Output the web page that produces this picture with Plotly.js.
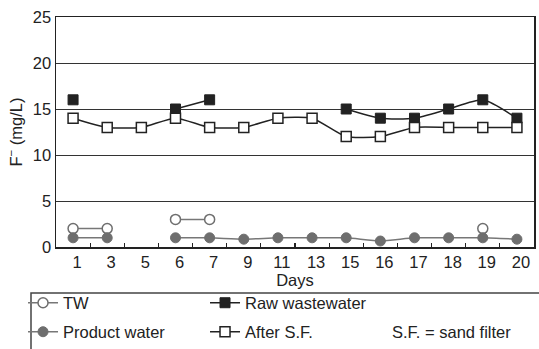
<!DOCTYPE html>
<html>
<head>
<meta charset="utf-8">
<script src="https://cdn.plot.ly/plotly-3.0.1.min.js"></script>
<style>html,body{margin:0;padding:0;background:#fff;}#chart{width:539px;height:349px;}</style>
</head>
<body>
<div id="chart"></div>
<script>
const days = ["1","3","5","6","7","9","11","13","15","16","17","18","19","20"];
const rawWastewater = [16, null, null, 15, 16, null, null, null, 15, 14, 14, 15, 16, 14];
const afterSF = [14, 13, 13, 14, 13, 13, 14, 14, 12, 12, 13, 13, 13, 13];
const tw = [2, 2, null, 3, 3, null, null, null, null, null, null, null, 2, null];
const productWater = [1, 1, null, 1, 1, 0.85, 1, 1, 1, 0.65, 1, 1, 1, 0.85];

const FONT = "Liberation Sans, Arial, sans-serif";
const DARK = "#222222";
const GRAY = "#6e6e6e";

const traces = [
  {name: "TW", x: days, y: tw, mode: "lines+markers", legend: "legend", legendrank: 1,
   line: {color: "#777777", width: 1.5, shape: "spline", smoothing: 0.6},
   marker: {symbol: "circle", size: 10, color: "#ffffff", line: {color: GRAY, width: 1.5}}, cliponaxis: false},
  {name: "Raw wastewater", x: days, y: rawWastewater, mode: "lines+markers", legend: "legend", legendrank: 2,
   line: {color: DARK, width: 1.5, shape: "spline", smoothing: 0.6},
   marker: {symbol: "square", size: 10, color: DARK, line: {color: DARK, width: 1}}, cliponaxis: false},
  {name: "Product water", x: days, y: productWater, mode: "lines+markers", legend: "legend2", legendrank: 3,
   line: {color: "#777777", width: 1.5, shape: "spline", smoothing: 0.6},
   marker: {symbol: "circle", size: 10, color: GRAY, line: {color: GRAY, width: 1}}, cliponaxis: false},
  {name: "After S.F.", x: days, y: afterSF, mode: "lines+markers", legend: "legend2", legendrank: 4,
   line: {color: DARK, width: 1.5, shape: "spline", smoothing: 0.6},
   marker: {symbol: "square", size: 10, color: "#ffffff", line: {color: DARK, width: 1.5}}, cliponaxis: false}
];

const legendCommon = {
  orientation: "h", xanchor: "left", yanchor: "middle", x: -0.069,
  bgcolor: "rgba(0,0,0,0)", borderwidth: 0, entrywidth: 137, entrywidthmode: "pixels",
  font: {family: FONT, size: 16.5, color: DARK}, traceorder: "normal"
};

const layout = {
  width: 539, height: 349,
  margin: {l: 56, r: 5, t: 17, b: 102, autoexpand: false},
  paper_bgcolor: "#ffffff", plot_bgcolor: "#ffffff",
  font: {family: FONT, size: 16.5, color: DARK},
  showlegend: true,
  legend: Object.assign({}, legendCommon, {y: -0.2435}),
  legend2: Object.assign({}, legendCommon, {y: -0.3696}),
  xaxis: {
    type: "category", categoryorder: "array", categoryarray: days,
    range: [-0.5, 13.5], tickson: "boundaries", ticks: "inside", ticklen: 4, tickwidth: 1.2, tickcolor: DARK,
    showgrid: false, showline: true, linecolor: DARK, linewidth: 1.5, mirror: true,
    ticklabelshift: 4,
    tickfont: {family: FONT, size: 16.5, color: DARK},
    title: {text: "Days", font: {family: FONT, size: 16.5, color: DARK}, standoff: 4}
  },
  yaxis: {
    range: [0, 25], dtick: 5, tick0: 0, ticks: "", showgrid: true, gridcolor: "#333333", gridwidth: 1,
    zeroline: false, showline: true, linecolor: DARK, linewidth: 1.5, mirror: true,
    tickfont: {family: FONT, size: 16.5, color: DARK},
    title: {text: "F<sup>−</sup> (mg/L)", font: {family: FONT, size: 16.5, color: DARK}, standoff: 6}
  },
  shapes: [
    {type: "rect", xref: "paper", yref: "paper", x0: -0.0523, x1: 1.06, y0: -0.2, y1: -0.55,
     line: {color: "#444444", width: 1.5}, fillcolor: "rgba(0,0,0,0)", layer: "above"}
  ],
  annotations: [
    {text: "S.F. = sand filter", xref: "paper", yref: "paper", x: 0.699, y: -0.3696,
     xanchor: "left", yanchor: "middle", showarrow: false, font: {family: FONT, size: 16.5, color: DARK}}
  ]
};

Plotly.newPlot("chart", traces, layout, {staticPlot: true, displayModeBar: false});
</script>
</body>
</html>
